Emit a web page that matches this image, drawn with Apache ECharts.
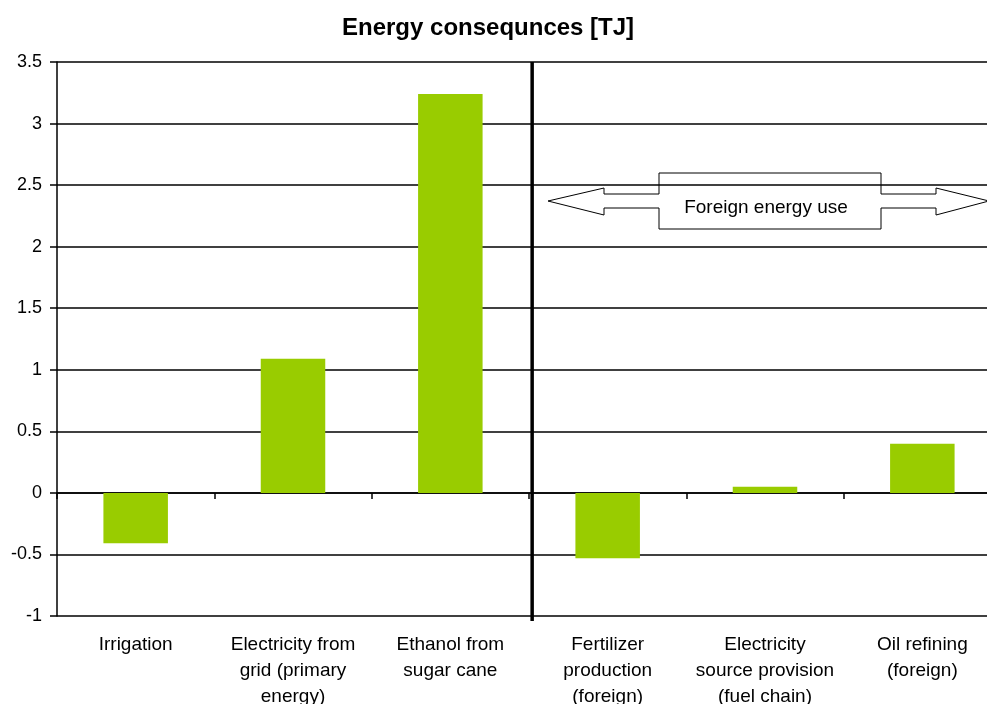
<!DOCTYPE html>
<html>
<head>
<meta charset="utf-8">
<script src="https://cdn.jsdelivr.net/npm/echarts@6/dist/echarts.min.js"></script>
<style>
  html, body { margin: 0; padding: 0; background: #fff; }
  #chart { width: 987px; height: 704px; }
</style>
</head>
<body>
<div id="chart"></div>
<script>
// Energy consequences per process step, in TJ
const categories = [
  'Irrigation',
  'Electricity from\ngrid (primary\nenergy)',
  'Ethanol from\nsugar cane',
  'Fertilizer\nproduction\n(foreign)',
  'Electricity\nsource provision\n(fuel chain)',
  'Oil refining\n(foreign)'
];
const energyTJ = [-0.41, 1.09, 3.24, -0.53, 0.05, 0.40];

// Divider between domestic and foreign contributions (position on a 0..6 category scale)
const dividerAt = 3.02;
const yMin = -1, yMax = 3.5, yStep = 0.5;

const FONT = '"Liberation Sans", Arial, sans-serif';
const chart = echarts.init(document.getElementById('chart'), null, { renderer: 'canvas' });

chart.setOption({
  backgroundColor: '#ffffff',
  animation: false,
  title: {
    text: 'Energy consequnces [TJ]',
    left: 342,
    top: 16,
    padding: 0,
    textStyle: { fontFamily: FONT, fontSize: 24, fontWeight: 'bold', color: '#000' }
  },
  grid: { left: 57, top: 62, right: -14, bottom: 88, containLabel: false, outerBoundsMode: 'none' },
  xAxis: [
    {
      // zero line ticks
      type: 'category',
      data: categories,
      axisLine: { onZero: true, lineStyle: { color: '#000', width: 1.5 } },
      axisTick: { show: true, length: 6, lineStyle: { color: '#000', width: 1.5 } },
      axisLabel: { show: false },
      splitLine: { show: false }
    },
    {
      // category labels below the plot
      type: 'category',
      data: categories,
      position: 'bottom',
      axisLine: { show: false, onZero: false },
      axisTick: { show: false },
      axisLabel: {
        show: true,
        interval: 0,
        margin: 16,
        fontFamily: FONT,
        fontSize: 19,
        lineHeight: 26,
        color: '#000',
        align: 'center'
      },
      splitLine: { show: false }
    },
    {
      type: 'value',
      min: 0,
      max: 6,
      show: false
    }
  ],
  yAxis: {
    type: 'value',
    min: yMin,
    max: yMax,
    interval: yStep,
    axisLine: { show: true, lineStyle: { color: '#000', width: 1.5 } },
    axisTick: { show: true, length: 7, lineStyle: { color: '#000', width: 1.5 } },
    axisLabel: { margin: 15, fontFamily: FONT, fontSize: 18, color: '#000' },
    splitLine: { show: true, lineStyle: { color: '#000', width: 1.5 } }
  },
  series: [
    {
      type: 'bar',
      xAxisIndex: 0,
      data: energyTJ,
      barWidth: '41%',
      itemStyle: { color: '#99CC00' },
      z: 2
    },
    {
      type: 'line',
      xAxisIndex: 2,
      data: [[dividerAt, yMax], [dividerAt, yMin - 0.04]],
      symbol: 'none',
      clip: false,
      lineStyle: { color: '#000', width: 3.5 },
      silent: true,
      z: 5
    }
  ],
  graphic: [
    {
      type: 'polygon',
      shape: {
        points: [
          [548, 201], [604, 188], [604, 194], [659, 194], [659, 173],
          [881, 173], [881, 194], [936, 194], [936, 188], [989, 201],
          [936, 215], [936, 208], [881, 208], [881, 229], [659, 229],
          [659, 208], [604, 208], [604, 215]
        ]
      },
      style: { fill: 'rgba(255,255,255,0)', stroke: '#000', lineWidth: 1 },
      z: 10
    },
    {
      type: 'text',
      x: 766,
      y: 208,
      style: {
        text: 'Foreign energy use',
        font: '19px ' + FONT,
        fill: '#000',
        textAlign: 'center',
        textVerticalAlign: 'middle'
      },
      z: 11
    }
  ]
});
</script>
</body>
</html>
